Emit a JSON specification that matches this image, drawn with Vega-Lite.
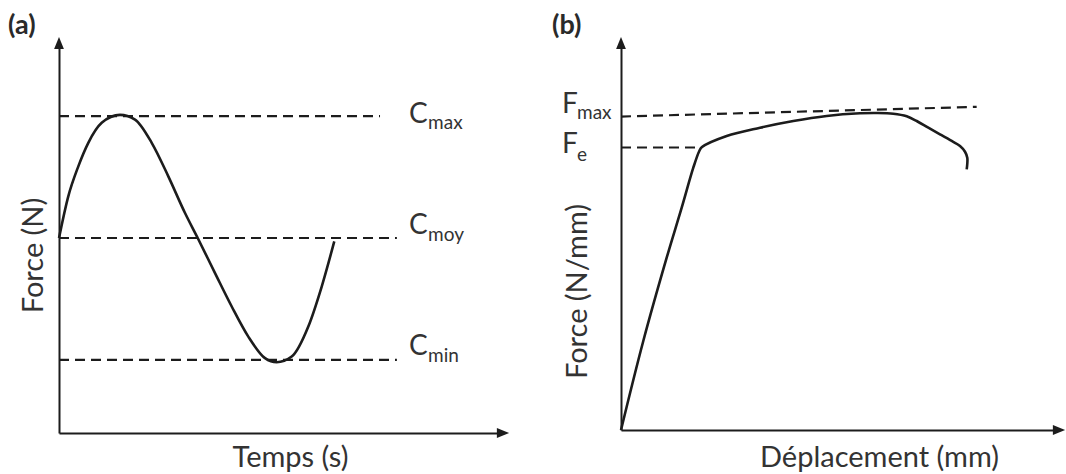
{
  "$schema": "https://vega.github.io/schema/vega-lite/v6.json",
  "background": "white",
  "padding": {"left": 8, "top": 12, "right": 0, "bottom": 0},
  "config": {
    "view": {"stroke": null},
    "font": "Lato",
    "axis": {
      "domainColor": "#1c1c1c",
      "domainWidth": 2,
      "ticks": false,
      "labels": false,
      "grid": false,
      "titleFont": "Lato",
      "titleFontSize": 29,
      "titleFontWeight": "normal",
      "titleColor": "#333333",
      "titlePadding": 0
    }
  },
  "datasets": {
    "sinusoide": [
      {"temps": 0, "force": 0},
      {"temps": 0.209, "force": 0.342},
      {"temps": 0.435, "force": 0.588},
      {"temps": 0.66, "force": 0.781},
      {"temps": 0.962, "force": 0.945},
      {"temps": 1.374, "force": 1.01},
      {"temps": 1.712, "force": 0.972},
      {"temps": 2.088, "force": 0.781},
      {"temps": 2.462, "force": 0.506},
      {"temps": 2.838, "force": 0.205},
      {"temps": 3.124, "force": 0},
      {"temps": 3.514, "force": -0.288},
      {"temps": 3.89, "force": -0.562},
      {"temps": 4.264, "force": -0.809},
      {"temps": 4.64, "force": -0.986},
      {"temps": 4.903, "force": -1.02},
      {"temps": 5.241, "force": -0.973},
      {"temps": 5.615, "force": -0.726},
      {"temps": 5.917, "force": -0.398},
      {"temps": 6.2, "force": -0.028}
    ],
    "niveauxC": [
      {"niveau": "max", "force": 1, "debut": 0, "fin": 7.23},
      {"niveau": "moy", "force": 0, "debut": 0, "fin": 7.61},
      {"niveau": "min", "force": -1, "debut": 0, "fin": 7.61}
    ],
    "courbe": [
      {"i": 1, "deplacement": 0, "force": 0},
      {"i": 2, "deplacement": 0.509, "force": 2.3},
      {"i": 3, "deplacement": 1.043, "force": 4.452},
      {"i": 4, "deplacement": 1.386, "force": 5.744},
      {"i": 5, "deplacement": 1.651, "force": 6.778},
      {"i": 6, "deplacement": 1.788, "force": 7.209},
      {"i": 7, "deplacement": 1.849, "force": 7.31},
      {"i": 8, "deplacement": 2.413, "force": 7.597},
      {"i": 9, "deplacement": 3.174, "force": 7.811},
      {"i": 10, "deplacement": 3.934, "force": 7.984},
      {"i": 11, "deplacement": 4.696, "force": 8.114},
      {"i": 12, "deplacement": 5.457, "force": 8.183},
      {"i": 13, "deplacement": 5.838, "force": 8.191},
      {"i": 14, "deplacement": 6.217, "force": 8.173},
      {"i": 15, "deplacement": 6.523, "force": 8.106},
      {"i": 16, "deplacement": 6.751, "force": 7.984},
      {"i": 17, "deplacement": 7.016, "force": 7.811},
      {"i": 18, "deplacement": 7.283, "force": 7.641},
      {"i": 19, "deplacement": 7.55, "force": 7.468},
      {"i": 20, "deplacement": 7.74, "force": 7.339},
      {"i": 21, "deplacement": 7.854, "force": 7.191},
      {"i": 22, "deplacement": 7.906, "force": 7.036},
      {"i": 23, "deplacement": 7.906, "force": 6.881},
      {"i": 24, "deplacement": 7.893, "force": 6.736}
    ],
    "niveauxF": [
      {"niveau": "max", "debut": 0, "fin": 8.12, "force": 8.1, "force_fin": 8.35},
      {"niveau": "e", "debut": 0, "fin": 1.8, "force": 7.3, "force_fin": 7.3}
    ],
    "unique": [{}]
  },
  "hconcat": [
    {
      "width": 444,
      "height": 390,
      "layer": [
        {
          "data": {"name": "sinusoide"},
          "mark": {"type": "line", "interpolate": "monotone", "color": "#1c1c1c", "strokeWidth": 2.6},
          "encoding": {
            "x": {"field": "temps", "type": "quantitative", "title": "Temps (s)", "scale": {"domain": [0, 10], "nice": false, "zero": false},
                  "axis": {"titleX": 231, "titleY": 33, "titleAlign": "center", "titleBaseline": "alphabetic"}},
            "y": {"field": "force", "type": "quantitative", "title": "Force (N)", "scale": {"domain": [-1.6, 1.6], "nice": false, "zero": false},
                  "axis": {"titleX": -26, "titleY": 212, "titleAngle": -90, "titleAlign": "center", "titleBaseline": "middle"}}
          }
        },
        {
          "data": {"name": "niveauxC"},
          "mark": {"type": "rule", "strokeDash": [10, 6], "strokeWidth": 2.2, "color": "#1c1c1c"},
          "encoding": {
            "x": {"field": "debut", "type": "quantitative", "title": "Temps (s)"},
            "x2": {"field": "fin"},
            "y": {"field": "force", "type": "quantitative", "title": "Force (N)"}
          }
        },
        {
          "data": {"name": "unique"},
          "mark": {"type": "point", "shape": "M0,-1L0.8,1L-0.8,1Z", "filled": true, "size": 150, "color": "#1c1c1c", "opacity": 1},
          "encoding": {
            "x": {"datum": 0, "type": "quantitative"},
            "y": {"datum": 1.6, "type": "quantitative"}
          }
        },
        {
          "data": {"name": "unique"},
          "mark": {"type": "point", "shape": "M1,0L-1,0.8L-1,-0.8Z", "filled": true, "size": 150, "color": "#1c1c1c", "opacity": 1},
          "encoding": {
            "x": {"datum": 10, "type": "quantitative"},
            "y": {"datum": -1.6, "type": "quantitative"}
          }
        },
        {
          "data": {"name": "niveauxC"},
          "transform": [{"filter": "datum.niveau === 'max'"}],
          "mark": {"type": "text", "text": "C", "align": "left", "baseline": "alphabetic", "fontSize": 28, "color": "#333333", "dx": -2, "dy": 7},
          "encoding": {
            "x": {"datum": 7.93, "type": "quantitative"},
            "y": {"field": "force", "type": "quantitative", "title": "Force (N)"}
          }
        },
        {
          "data": {"name": "niveauxC"},
          "transform": [{"filter": "datum.niveau === 'max'"}],
          "mark": {"type": "text", "align": "left", "baseline": "alphabetic", "fontSize": 19, "color": "#333333", "dx": 17, "dy": 13},
          "encoding": {
            "x": {"datum": 7.93, "type": "quantitative"},
            "y": {"field": "force", "type": "quantitative", "title": "Force (N)"},
            "text": {"field": "niveau", "type": "nominal"}
          }
        },
        {
          "data": {"name": "niveauxC"},
          "transform": [{"filter": "datum.niveau !== 'max'"}],
          "mark": {"type": "text", "text": "C", "align": "left", "baseline": "alphabetic", "fontSize": 28, "color": "#333333", "dx": -2, "dy": -4.5},
          "encoding": {
            "x": {"datum": 7.93, "type": "quantitative"},
            "y": {"field": "force", "type": "quantitative", "title": "Force (N)"}
          }
        },
        {
          "data": {"name": "niveauxC"},
          "transform": [{"filter": "datum.niveau !== 'max'"}],
          "mark": {"type": "text", "align": "left", "baseline": "alphabetic", "fontSize": 19, "color": "#333333", "dx": 17, "dy": 2.5},
          "encoding": {
            "x": {"datum": 7.93, "type": "quantitative"},
            "y": {"field": "force", "type": "quantitative", "title": "Force (N)"},
            "text": {"field": "niveau", "type": "nominal"}
          }
        },
        {
          "data": {"name": "unique"},
          "mark": {"type": "text", "text": "(a)", "align": "left", "baseline": "alphabetic", "fontSize": 27, "fontWeight": "bold", "color": "#2a2a2a", "dx": -51, "dy": -9},
          "encoding": {
            "x": {"datum": 0, "type": "quantitative"},
            "y": {"datum": 1.6, "type": "quantitative"}
          }
        }
      ]
    },
    {
      "width": 438,
      "height": 387,
      "layer": [
        {
          "data": {"name": "courbe"},
          "mark": {"type": "line", "interpolate": "catmull-rom", "color": "#1c1c1c", "strokeWidth": 2.6},
          "encoding": {
            "x": {"field": "deplacement", "type": "quantitative", "title": "Déplacement (mm)", "scale": {"domain": [0, 10], "nice": false, "zero": false},
                  "axis": {"titleX": 258, "titleY": 36, "titleAlign": "center", "titleBaseline": "alphabetic"}},
            "y": {"field": "force", "type": "quantitative", "title": "Force (N/mm)", "scale": {"domain": [0, 10], "nice": false, "zero": false},
                  "axis": {"titleX": -44, "titleY": 248, "titleAngle": -90, "titleAlign": "center", "titleBaseline": "middle"}},
            "order": {"field": "i", "type": "quantitative"}
          }
        },
        {
          "data": {"name": "niveauxF"},
          "mark": {"type": "rule", "strokeDash": [10, 6], "strokeWidth": 2.2, "color": "#1c1c1c"},
          "encoding": {
            "x": {"field": "debut", "type": "quantitative", "title": "Déplacement (mm)"},
            "x2": {"field": "fin"},
            "y": {"field": "force", "type": "quantitative", "title": "Force (N/mm)"},
            "y2": {"field": "force_fin"}
          }
        },
        {
          "data": {"name": "unique"},
          "mark": {"type": "point", "shape": "M0,-1L0.8,1L-0.8,1Z", "filled": true, "size": 150, "color": "#1c1c1c", "opacity": 1},
          "encoding": {
            "x": {"datum": 0, "type": "quantitative"},
            "y": {"datum": 10, "type": "quantitative"}
          }
        },
        {
          "data": {"name": "unique"},
          "mark": {"type": "point", "shape": "M1,0L-1,0.8L-1,-0.8Z", "filled": true, "size": 150, "color": "#1c1c1c", "opacity": 1},
          "encoding": {
            "x": {"datum": 10, "type": "quantitative"},
            "y": {"datum": 0, "type": "quantitative"}
          }
        },
        {
          "data": {"name": "niveauxF"},
          "transform": [{"filter": "datum.niveau === 'max'"}],
          "mark": {"type": "text", "text": "F", "align": "left", "baseline": "alphabetic", "fontSize": 28, "color": "#333333", "dx": -59, "dy": -3.5},
          "encoding": {
            "x": {"datum": 0, "type": "quantitative"},
            "y": {"field": "force", "type": "quantitative", "title": "Force (N/mm)"}
          }
        },
        {
          "data": {"name": "niveauxF"},
          "transform": [{"filter": "datum.niveau === 'max'"}],
          "mark": {"type": "text", "align": "left", "baseline": "alphabetic", "fontSize": 19, "color": "#333333", "dx": -44, "dy": 2.5},
          "encoding": {
            "x": {"datum": 0, "type": "quantitative"},
            "y": {"field": "force", "type": "quantitative", "title": "Force (N/mm)"},
            "text": {"field": "niveau", "type": "nominal"}
          }
        },
        {
          "data": {"name": "niveauxF"},
          "transform": [{"filter": "datum.niveau === 'e'"}],
          "mark": {"type": "text", "text": "F", "align": "left", "baseline": "alphabetic", "fontSize": 28, "color": "#333333", "dx": -59, "dy": 5.5},
          "encoding": {
            "x": {"datum": 0, "type": "quantitative"},
            "y": {"field": "force", "type": "quantitative", "title": "Force (N/mm)"}
          }
        },
        {
          "data": {"name": "niveauxF"},
          "transform": [{"filter": "datum.niveau === 'e'"}],
          "mark": {"type": "text", "align": "left", "baseline": "alphabetic", "fontSize": 19, "color": "#333333", "dx": -44, "dy": 13.5},
          "encoding": {
            "x": {"datum": 0, "type": "quantitative"},
            "y": {"field": "force", "type": "quantitative", "title": "Force (N/mm)"},
            "text": {"field": "niveau", "type": "nominal"}
          }
        },
        {
          "data": {"name": "unique"},
          "mark": {"type": "text", "text": "(b)", "align": "left", "baseline": "alphabetic", "fontSize": 27, "fontWeight": "bold", "color": "#2a2a2a", "dx": -69, "dy": -9},
          "encoding": {
            "x": {"datum": 0, "type": "quantitative"},
            "y": {"datum": 10, "type": "quantitative"}
          }
        }
      ]
    }
  ],
  "spacing": 118,
  "bounds": "flush"
}
